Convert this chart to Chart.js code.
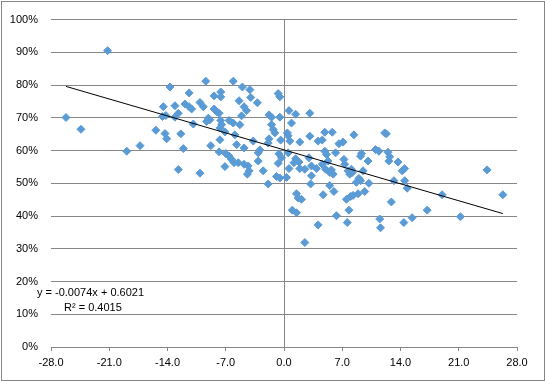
<!DOCTYPE html>
<html>
<head>
<meta charset="utf-8">
<script src="https://cdn.jsdelivr.net/npm/chart.js@4.4.0/dist/chart.umd.min.js"></script>
<style>
  html, body { margin: 0; padding: 0; background: #fff; }
  #wrap { position: relative; width: 545px; height: 381px; }
  #frame { position: absolute; left: 1px; top: 1px; width: 544px; height: 380px; box-sizing: border-box; border: 1px solid #868686; pointer-events: none; }
  canvas { position: absolute; left: 0; top: 0; }
</style>
</head>
<body>
<div id="wrap">
  <canvas id="c" width="545" height="381"></canvas>
  <div id="frame"></div>
</div>
<script>
// x values (change)
const xValues = [
  -26.2, -24.4, -21.2, -18.9, -17.3, -15.4, -13.7, -14.5, -14.6, -14.2,
  -14.3, -14.1, -13.1, -13.1, -12.7, -12.4, -12.1, -12.7, -11.9, -11.4,
  -11.1, -11.4, -10.9, -10.1, -9.7, -10.1, -9.4, -9.1, -8.9, -9.3,
  -8.8, -8.4, -8.4, -8.1, -7.8, -7.6, -7.6, -7.6, -7.5, -7.7,
  -7.7, -7.1, -7.8, -7.0, -6.6, -6.3, -6.0, -7.1, -6.6, -6.1,
  -5.9, -5.7, -6.1, -5.4, -5.0, -4.1, -4.0, -3.2, -4.8, -4.5,
  -5.1, -5.3, -4.8, -3.7, -3.1, -2.9, -1.8, -1.9, -1.8, -1.5,
  -1.5, -1.3, -1.1, -0.7, -0.5, -0.5, -0.4, 0.6, 1.4, 0.9,
  0.4, 0.5, 0.7, 1.9, 3.1, 3.1, 4.1, 4.6, 4.9, 5.8,
  4.9, 5.1, -0.3, 0.5, 1.4, 1.8, 1.2, 3.0, 3.3, 3.9,
  4.6, 5.3, 5.7, -0.7, 1.9, 2.5, -2.5, -3.1, -4.8, -4.3,
  -5.5, -4.2, -4.4, -1.9, -0.9, -0.5, 0.3, 0.6, 3.3, 3.2,
  5.0, 5.5, 5.5, 4.7, 1.5, 1.7, 2.1, 1.0, 1.5, 4.1,
  2.5, 6.3, -0.6, 8.4, 6.6, 7.1, 6.2, 12.1, 12.3, 9.3,
  9.2, 10.1, 11.0, 11.4, 12.5, 12.7, 12.6, 13.7, 14.2, 14.5,
  14.8, 14.5, 13.2, 12.9, 17.2, 15.4, 14.4, 11.5, 11.6, 7.6,
  7.8, 7.5, 8.0, 8.3, 8.9, 9.7, 6.0, 10.2, 8.7, 9.2,
  9.0, 9.5, 7.2, 5.9, 7.3, 7.7, 7.9, 8.2, 8.1, 19.0,
  21.2, 24.4, 26.3
];
// y values (share, as fractions)
const yValues = [
  0.701, 0.665, 0.905, 0.598, 0.615, 0.662, 0.794, 0.734, 0.704, 0.707,
  0.652, 0.636, 0.737, 0.702, 0.714, 0.651, 0.606, 0.542, 0.742, 0.734,
  0.727, 0.776, 0.681, 0.747, 0.734, 0.531, 0.812, 0.699, 0.694, 0.689,
  0.615, 0.767, 0.727, 0.719, 0.714, 0.779, 0.764, 0.692, 0.679, 0.669,
  0.633, 0.657, 0.596, 0.591, 0.583, 0.573, 0.563, 0.551, 0.692, 0.684,
  0.648, 0.618, 0.812, 0.752, 0.794, 0.786, 0.762, 0.746, 0.734, 0.722,
  0.706, 0.679, 0.608, 0.629, 0.593, 0.602, 0.636, 0.623, 0.709, 0.702,
  0.679, 0.664, 0.654, 0.774, 0.764, 0.702, 0.632, 0.722, 0.711, 0.684,
  0.654, 0.645, 0.629, 0.626, 0.714, 0.644, 0.629, 0.632, 0.656, 0.656,
  0.598, 0.588, 0.578, 0.593, 0.575, 0.565, 0.563, 0.578, 0.553, 0.545,
  0.558, 0.568, 0.541, 0.561, 0.545, 0.543, 0.538, 0.568, 0.558, 0.553,
  0.563, 0.538, 0.528, 0.498, 0.521, 0.516, 0.518, 0.545, 0.523, 0.498,
  0.543, 0.533, 0.493, 0.465, 0.468, 0.455, 0.451, 0.418, 0.410, 0.373,
  0.319, 0.401, 0.590, 0.648, 0.621, 0.626, 0.593, 0.654, 0.651, 0.591,
  0.583, 0.568, 0.603, 0.598, 0.595, 0.581, 0.568, 0.565, 0.538, 0.545,
  0.485, 0.508, 0.508, 0.443, 0.418, 0.395, 0.380, 0.391, 0.364, 0.380,
  0.418, 0.451, 0.460, 0.463, 0.468, 0.475, 0.475, 0.500, 0.503, 0.508,
  0.515, 0.538, 0.573, 0.528, 0.558, 0.538, 0.528, 0.533, 0.543, 0.465,
  0.398, 0.541, 0.465
];
// linear trendline shown on the chart: y = slope*x + intercept
const trendSlope = -0.0074;
const trendIntercept = 0.6021;
const trendLabel = 'y = -0.0074x + 0.6021';
const r2Label = 'R² = 0.4015';
const xTicks = [-28, -21, -14, -7, 0, 7, 14, 21, 28];
const yTicks = [0, 0.1, 0.2, 0.3, 0.4, 0.5, 0.6, 0.7, 0.8, 0.9, 1.0];

const points = xValues.map((x, i) => ({ x: x, y: yValues[i] }));
const xMin = Math.min(...xValues), xMax = Math.max(...xValues);
const trendPoints = [xMin, xMax].map(x => ({ x: x, y: trendSlope * x + trendIntercept }));

const GRID = '#868686';
const FONT = { family: '"Liberation Sans", Arial, sans-serif', size: 11 };

const labelPlugin = {
  id: 'trendLabel',
  afterDatasetsDraw(chart) {
    const ctx = chart.ctx;
    const a = chart.chartArea;
    ctx.save();
    ctx.font = '11px "Liberation Sans", Arial, sans-serif';
    ctx.fillStyle = '#000';
    ctx.textBaseline = 'middle';
    ctx.textAlign = 'left';
    ctx.fillText(trendLabel, a.left - 14, a.bottom - 54);
    ctx.fillText(r2Label, a.left + 13, a.bottom - 39);
    ctx.restore();
  }
};

new Chart(document.getElementById('c'), {
  type: 'scatter',
  data: {
    datasets: [
      {
        label: 'data',
        data: points,
        pointStyle: 'rectRot',
        pointRadius: 4,
        pointBorderWidth: 1,
        backgroundColor: '#5B9BD5',
        borderColor: '#5B9BD5',
        order: 2
      },
      {
        type: 'line',
        label: 'trend',
        data: trendPoints,
        borderColor: '#000',
        borderWidth: 1,
        pointRadius: 0,
        fill: false,
        order: 1
      }
    ]
  },
  plugins: [labelPlugin],
  options: {
    responsive: false,
    animation: false,
    events: [],
    layout: { padding: { left: 0, top: 15, right: 28, bottom: 0 } },
    plugins: { legend: { display: false }, tooltip: { enabled: false } },
    scales: {
      x: {
        type: 'linear',
        min: -28, max: 28,
        afterBuildTicks: s => { s.ticks = xTicks.map(v => ({ value: v })); },
        afterFit: s => { s.height = 34; },
        ticks: {
          color: '#000', font: FONT, padding: 5, maxRotation: 0,
          callback: v => Number(v).toFixed(1)
        },
        grid: {
          drawOnChartArea: true,
          color: c => (c.tick && c.tick.value === 0) ? GRID : 'rgba(0,0,0,0)',
          tickColor: GRID,
          tickLength: 4,
          lineWidth: 1
        },
        border: { display: true, color: GRID, width: 1 }
      },
      y: {
        type: 'linear',
        min: 0, max: 1,
        afterBuildTicks: s => { s.ticks = yTicks.map(v => ({ value: v })); },
        afterFit: s => { s.width = 51; },
        ticks: {
          color: '#000', font: FONT, padding: 13,
          callback: v => Math.round(v * 100) + '%'
        },
        grid: { color: GRID, drawTicks: false, lineWidth: 1 },
        border: { display: false }
      }
    }
  }
});
</script>
</body>
</html>
